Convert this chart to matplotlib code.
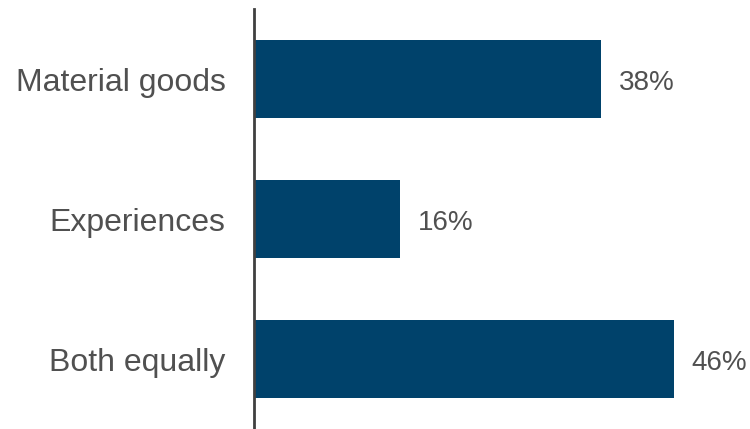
import matplotlib.pyplot as plt

categories = ["Material goods", "Experiences", "Both equally"]
values = [38, 16, 46]

plt.rcParams['font.family'] = ['Liberation Sans', 'DejaVu Sans']

fig = plt.figure(figsize=(7.5, 4.29), dpi=100)
ax = fig.add_axes([254 / 750, 0, 1 - 254 / 750, 1 - 9 / 429])

pos = list(range(len(categories)))
ax.barh(pos, values, height=0.557, color="#00426B")
for p, v in zip(pos, values):
    ax.text(v + 1.9, p + 0.03, f"{v}%", va="center", ha="left",
            fontsize=20, color="#505050")

ax.set_xlim(0, 54.3)
ax.set_ylim(2.5, -0.5)
ax.set_yticks(pos)
ax.set_yticklabels(categories, fontsize=23, color="#505050")
ax.tick_params(axis="y", length=0, pad=20.5)
ax.set_xticks([])
for s in ["top", "right", "bottom"]:
    ax.spines[s].set_visible(False)
ax.spines["left"].set_color("#404040")
ax.spines["left"].set_linewidth(2)

fig.savefig("out.png", dpi=100)
